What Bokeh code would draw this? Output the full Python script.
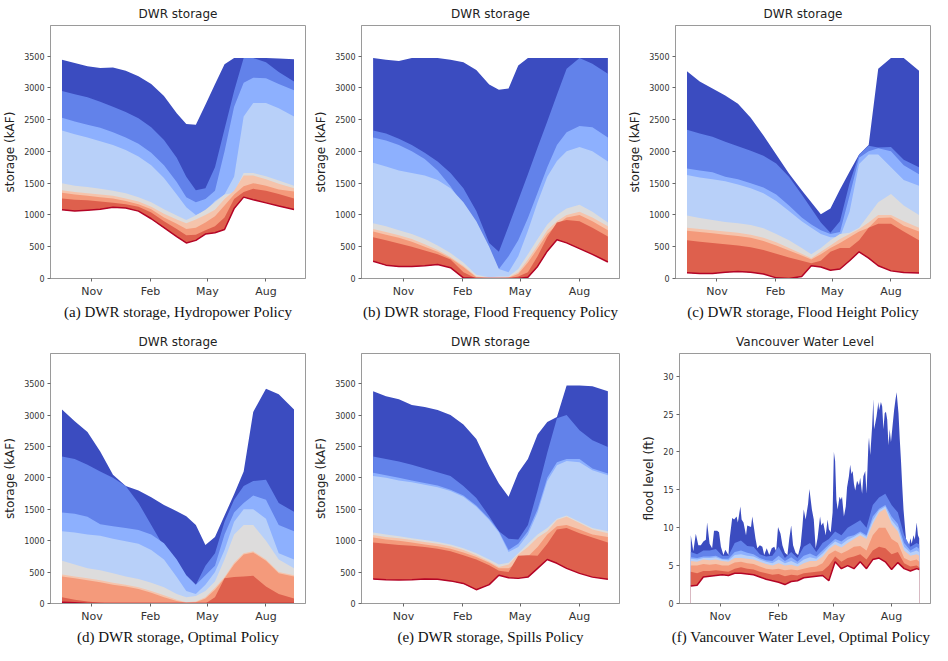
from bokeh.plotting import figure
from bokeh.models import Range1d, FixedTicker, Title
from bokeh.layouts import column, row
from bokeh.embed import file_html
from bokeh.resources import INLINE

# ---------------- shared axis data ----------------
tick_days = [47, 139, 228, 320]
tick_labels = ["Nov", "Feb", "May", "Aug"]
storage_ticks = [0, 500, 1000, 1500, 2000, 2500, 3000, 3500]
flood_ticks = [0, 5, 10, 15, 20, 25, 30]

# day of water year (0 = mid September)
days = [0, 20, 40, 60, 80, 100, 120, 140, 160, 180, 195, 210, 225, 240, 255, 270, 285, 300, 320, 340, 364]

# band colours (coolwarm), from the widest band to the lowest one, then the minimum line
band_colors = ["#3b4cc0", "#6282ea", "#8db0fe", "#b8d0f9", "#dddcdc", "#f5c4ac", "#f49a7b", "#de604d"]
min_color = "#b40426"

# ---------------- (a) Hydropower policy ----------------
a_top = [3440, 3390, 3340, 3310, 3320, 3270, 3180, 3060, 2870, 2600, 2430, 2420, 2735, 3055, 3370, 3470, 3470, 3470, 3470, 3460, 3450]
a_b2 = [2950, 2900, 2850, 2780, 2700, 2620, 2520, 2380, 2180, 1900, 1600, 1390, 1420, 1750, 2350, 2950, 3470, 3470, 3400, 3250, 3100]
a_b3 = [2530, 2470, 2420, 2370, 2300, 2220, 2120, 1980, 1780, 1520, 1280, 1200, 1250, 1380, 2000, 2700, 3080, 3160, 3150, 3060, 2960]
a_b4 = [2330, 2270, 2220, 2160, 2100, 2020, 1920, 1780, 1580, 1320, 1120, 1000, 1060, 1220, 1320, 1600, 2550, 2760, 2760, 2680, 2550]
a_b5 = [1500, 1460, 1440, 1410, 1380, 1340, 1280, 1200, 1090, 990, 920, 990, 1080, 1200, 1320, 1350, 1660, 1660, 1610, 1540, 1460]
a_b6 = [1390, 1360, 1340, 1320, 1300, 1260, 1210, 1130, 1020, 930, 870, 930, 1000, 1080, 1250, 1380, 1620, 1620, 1560, 1490, 1420]
a_b7 = [1350, 1320, 1300, 1280, 1260, 1220, 1170, 1090, 960, 860, 780, 800, 880, 980, 1150, 1320, 1450, 1500, 1460, 1400, 1370]
a_b8 = [1260, 1240, 1230, 1210, 1190, 1170, 1130, 1040, 900, 780, 680, 690, 760, 820, 960, 1250, 1360, 1410, 1380, 1330, 1260]
a_min = [1080, 1060, 1075, 1090, 1120, 1110, 1060, 940, 800, 660, 560, 600, 700, 720, 770, 1100, 1280, 1240, 1190, 1140, 1085]

# ---------------- (b) Flood frequency policy ----------------
b_top = [3470, 3440, 3420, 3470, 3470, 3470, 3440, 3400, 3280, 3050, 2970, 2990, 3350, 3470, 3470, 3470, 3470, 3470, 3470, 3470, 3470]
b_b2 = [2330, 2280, 2200, 2100, 1980, 1840, 1660, 1420, 1060, 560, 420, 820, 1230, 1640, 2060, 2470, 2890, 3300, 3470, 3380, 3220]
b_b3 = [2220, 2170, 2100, 2000, 1880, 1700, 1450, 1150, 780, 350, 150, 350, 600, 950, 1350, 1750, 2100, 2300, 2400, 2380, 2220]
b_b4 = [1820, 1760, 1700, 1660, 1620, 1550, 1420, 1200, 900, 500, 150, 100, 350, 750, 1200, 1600, 1850, 2000, 2070, 2000, 1840]
b_b5 = [870, 820, 760, 700, 620, 520, 400, 250, 60, 20, 30, 30, 150, 380, 620, 850, 1000, 1100, 1160, 1050, 880]
b_b6 = [780, 730, 680, 620, 540, 450, 340, 200, 30, 10, 10, 20, 100, 300, 520, 760, 900, 1000, 1050, 960, 820]
b_b7 = [740, 690, 640, 580, 500, 420, 320, 180, 20, 0, 0, 10, 70, 250, 470, 700, 850, 960, 1000, 900, 760]
b_b8 = [650, 600, 550, 500, 440, 380, 300, 100, 0, 0, 0, 0, 30, 100, 350, 650, 880, 920, 900, 800, 660]
b_min = [270, 210, 190, 190, 200, 220, 170, 10, 0, 0, 0, 0, 0, 20, 190, 430, 610, 560, 470, 380, 260]

# ---------------- (c) Flood height policy ----------------
c_top = [3260, 3100, 2990, 2880, 2750, 2530, 2250, 1950, 1650, 1390, 1200, 1010, 1100, 1400, 1680, 1950, 2100, 3300, 3470, 3470, 3270]
c_b2 = [2340, 2280, 2230, 2150, 2080, 2010, 1930, 1810, 1600, 1320, 1100, 880, 720, 900, 1500, 1950, 2090, 2060, 2070, 1870, 1750]
c_b3 = [1730, 1700, 1670, 1600, 1560, 1500, 1430, 1320, 1150, 960, 850, 760, 700, 730, 1300, 1900, 2000, 2050, 2000, 1780, 1640]
c_b4 = [1630, 1590, 1560, 1530, 1480, 1420, 1340, 1220, 1060, 900, 800, 700, 650, 650, 1050, 1800, 1950, 1950, 1750, 1550, 1460]
c_b5 = [990, 950, 920, 890, 870, 840, 790, 700, 600, 480, 380, 480, 600, 700, 720, 800, 1000, 1200, 1330, 1150, 1000]
c_b6 = [800, 780, 760, 740, 720, 690, 640, 570, 480, 390, 320, 420, 520, 620, 700, 780, 880, 1000, 1000, 900, 800]
c_b7 = [750, 730, 710, 690, 670, 640, 590, 520, 440, 360, 300, 380, 480, 560, 650, 740, 800, 950, 960, 830, 740]
c_b8 = [600, 580, 560, 540, 520, 490, 450, 390, 330, 280, 240, 280, 420, 480, 480, 600, 800, 860, 860, 740, 600]
c_min = [90, 80, 80, 100, 110, 100, 70, 10, 0, 30, 200, 180, 130, 150, 280, 420, 320, 200, 120, 95, 85]

# ---------------- (d) Optimal policy ----------------
d_top = [3090, 2900, 2730, 2420, 2050, 1870, 1800, 1690, 1570, 1470, 1390, 1250, 930, 1060, 1400, 1740, 2100, 3050, 3420, 3330, 3090]
d_b2 = [2340, 2300, 2210, 2100, 2000, 1870, 1600, 1250, 900, 560, 300, 300, 600, 800, 1300, 1650, 1870, 1950, 1970, 1600, 1460]
d_b3 = [1450, 1430, 1380, 1260, 1230, 1200, 1170, 1100, 960, 700, 450, 300, 450, 600, 1100, 1450, 1600, 1720, 1650, 1250, 1150]
d_b4 = [1150, 1130, 1100, 1080, 1030, 990, 950, 850, 700, 420, 200, 150, 300, 500, 850, 1300, 1500, 1500, 1350, 800, 700]
d_b5 = [680, 620, 560, 530, 480, 430, 390, 330, 260, 150, 100, 120, 200, 350, 700, 1100, 1250, 1250, 1000, 700, 560]
d_b6 = [460, 430, 400, 370, 330, 300, 260, 200, 130, 60, 20, 30, 100, 250, 420, 650, 800, 830, 700, 500, 450]
d_b7 = [430, 400, 370, 340, 300, 270, 230, 170, 100, 40, 10, 20, 80, 220, 400, 620, 780, 810, 680, 480, 430]
d_b8 = [100, 60, 30, 10, 0, 0, 0, 0, 0, 0, 0, 0, 0, 100, 400, 420, 430, 440, 270, 150, 80]
d_min = [20, 10, 0, 0, 0, 0, 0, 0, 0, 0, 0, 0, 0, 0, 0, 0, 0, 0, 0, 0, 0]

# ---------------- (e) Spills policy ----------------
e_top = [3380, 3300, 3250, 3160, 3130, 3080, 3000, 2850, 2620, 2190, 1910, 1700, 2080, 2300, 2690, 2890, 2970, 3470, 3470, 3460, 3380]
e_b2 = [2340, 2300, 2260, 2210, 2150, 2090, 2030, 1870, 1680, 1390, 1150, 1030, 1020, 1250, 1800, 2400, 2950, 3000, 2760, 2600, 2490]
e_b3 = [2080, 2040, 2000, 1960, 1920, 1880, 1810, 1720, 1560, 1350, 1150, 850, 950, 1150, 1500, 2000, 2250, 2300, 2300, 2150, 2070]
e_b4 = [2030, 2000, 1960, 1930, 1890, 1850, 1790, 1700, 1540, 1330, 1130, 820, 900, 1100, 1450, 1950, 2200, 2270, 2250, 2120, 2040]
e_b5 = [1130, 1100, 1070, 1040, 1010, 980, 940, 880, 800, 700, 620, 650, 800, 950, 1100, 1200, 1350, 1400, 1300, 1200, 1150]
e_b6 = [1090, 1060, 1040, 1010, 980, 950, 910, 850, 770, 670, 580, 620, 780, 900, 1050, 1150, 1330, 1380, 1280, 1180, 1120]
e_b7 = [1050, 1020, 1000, 970, 940, 910, 870, 810, 740, 650, 560, 560, 650, 750, 900, 1100, 1230, 1250, 1180, 1100, 1060]
e_b8 = [970, 950, 930, 920, 900, 870, 830, 770, 700, 610, 520, 500, 760, 770, 760, 950, 1180, 1200, 1120, 1050, 970]
e_min = [390, 380, 375, 380, 390, 385, 360, 320, 220, 300, 450, 410, 400, 420, 560, 700, 640, 560, 480, 420, 385]

# ---------------- (f) Vancouver water level ----------------
f_top_days = [0, 4, 8, 12, 16, 20, 24, 26, 30, 34, 37, 42, 45, 48, 52, 55, 60, 62, 66, 69, 73, 75, 79, 81, 84, 88, 90,
              96, 98, 101, 103, 106, 110, 114, 117, 121, 125, 129, 133, 136, 139, 143, 146, 150, 154, 157, 160, 163,
              167, 171, 175, 178, 180, 183, 187, 189, 193, 196, 199, 202, 206, 208, 211, 215, 218, 220, 223, 226, 228,
              230, 232, 234, 237, 239, 241, 244, 247, 249, 252, 254, 256, 258, 260, 262, 265, 268, 270, 273, 275, 278,
              280, 283, 284, 286, 289, 291, 292, 294, 296, 299, 300, 303, 305, 307, 309, 311, 313, 315, 317, 319, 321,
              324, 326, 328, 331, 333, 335, 337, 339, 342, 344, 347, 350, 352, 355, 357, 360, 362, 364]
f_top = [9.0, 6.9, 9.2, 7.7, 7.7, 8.2, 8.4, 10.7, 7.9, 7.3, 9.6, 9.6, 9.4, 7.5, 6.4, 7.1, 6.4, 8.6, 11.3, 11.1, 11.5, 10.7,
         12.8, 11.1, 10.7, 9.0, 10.3, 10.1, 11.5, 9.8, 8.6, 7.3, 7.7, 7.5, 6.4, 7.3, 6.4, 7.3, 7.5, 6.9, 10.1, 9.2, 7.7,
         6.7, 6.4, 8.6, 10.3, 7.7, 6.7, 6.4, 7.7, 10.3, 12.4, 11.1, 13.2, 15.1, 12.4, 11.1, 7.3, 8.6, 11.5, 10.3, 10.7,
         9.0, 11.1, 9.8, 9.4, 12.0, 20.0, 18.8, 13.7, 12.4, 14.1, 13.7, 14.1, 11.5, 12.8, 15.3, 16.8, 18.3, 17.1, 17.5,
         15.8, 14.9, 16.2, 15.6, 16.6, 14.5, 16.8, 17.5, 14.5, 20.9, 21.9, 19.6, 23.4, 27.0, 23.0, 23.8, 24.7, 26.6,
         25.5, 26.6, 26.0, 23.0, 25.1, 25.3, 24.3, 20.9, 23.0, 21.3, 23.0, 25.5, 26.8, 27.9, 25.1, 21.7, 18.8, 15.4,
         12.4, 9.4, 7.7, 7.3, 8.6, 7.9, 9.0, 8.4, 10.7, 9.0, 8.6]
f_days = [0, 10, 20, 30, 40, 50, 60, 70, 80, 90, 100, 110, 120, 130, 140, 150, 160, 170, 180, 190, 200, 210, 220, 230,
          240, 250, 260, 270, 280, 290, 300, 310, 320, 330, 340, 350, 360, 364]
f_b2 = [6.8, 6.5, 7.0, 7.0, 7.2, 6.3, 6.3, 8.0, 8.3, 7.6, 7.5, 6.5, 6.2, 6.3, 7.5, 6.0, 6.8, 6.0, 7.5, 8.0, 6.8, 8.0,
        8.5, 9.5, 9.0, 10.0, 10.5, 11.0, 10.0, 13.0, 14.0, 14.5, 13.0, 12.0, 9.0, 7.5, 8.0, 7.8]
f_b3 = [6.1, 6.0, 6.2, 6.2, 6.3, 5.9, 5.9, 6.8, 7.0, 6.7, 6.5, 6.0, 5.7, 5.6, 6.3, 5.6, 6.1, 5.5, 6.3, 6.6, 6.2, 7.0,
        7.8, 8.5, 8.2, 8.8, 9.0, 9.5, 9.0, 11.5, 12.5, 13.0, 11.5, 10.5, 8.0, 7.0, 7.5, 7.2]
f_b4 = [5.9, 5.8, 6.0, 6.0, 6.1, 5.8, 5.7, 6.4, 6.5, 6.3, 6.2, 5.8, 5.5, 5.3, 5.8, 5.3, 5.6, 5.2, 5.8, 6.1, 5.9, 6.6,
        7.5, 8.2, 7.8, 8.4, 8.8, 9.3, 8.8, 11.0, 12.3, 12.8, 11.0, 10.0, 7.5, 6.7, 7.0, 6.8]
f_b5 = [5.6, 5.5, 5.8, 5.7, 5.8, 5.6, 5.5, 6.0, 6.0, 5.9, 5.8, 5.5, 5.2, 5.0, 5.3, 5.0, 5.1, 4.9, 5.3, 5.6, 5.6, 6.2,
        7.2, 7.8, 7.4, 8.0, 8.5, 9.0, 8.5, 10.5, 12.0, 12.5, 10.5, 9.5, 7.0, 6.3, 6.5, 6.3]
f_b7 = [5.0, 5.0, 5.2, 5.1, 5.2, 5.0, 5.0, 5.4, 5.5, 5.3, 5.2, 4.9, 4.6, 4.5, 4.6, 4.4, 4.5, 4.4, 4.6, 4.8, 4.9, 5.3,
        6.5, 7.0, 6.6, 7.0, 7.5, 7.6, 7.0, 9.0, 10.0, 10.0, 8.5, 8.0, 6.0, 5.6, 5.8, 5.5]
f_b8 = [4.2, 4.0, 4.3, 4.3, 4.4, 4.3, 4.2, 4.6, 4.8, 4.6, 4.5, 4.2, 4.0, 3.8, 3.9, 3.6, 3.8, 3.7, 4.0, 4.1, 4.2, 4.3,
        5.0, 6.2, 5.5, 6.0, 6.2, 6.5, 5.8, 7.0, 7.5, 7.3, 6.5, 6.8, 5.3, 4.9, 5.0, 4.8]
f_min = [2.3, 2.4, 3.5, 3.6, 3.7, 3.8, 3.7, 4.0, 4.0, 3.9, 3.8, 3.5, 3.2, 3.0, 2.8, 2.5, 2.9, 3.0, 3.4, 3.5, 3.6, 3.7,
         3.0, 5.5, 4.6, 5.0, 4.6, 5.5, 4.6, 5.8, 6.0, 5.5, 4.5, 5.4, 4.6, 4.3, 4.6, 4.5]

SANS = "DejaVu Sans"
SERIF = "Liberation Serif"


def make_fig(title, caption, ylabel, yend, yticks, width, height, bl, br, tstand, bb, cap_align="center"):
    p = figure(width=width, height=height, x_range=Range1d(-18, 382), y_range=Range1d(0, yend),
               output_backend="svg", toolbar_location=None,
               min_border_left=bl, min_border_right=br, min_border_top=0, min_border_bottom=bb)
    p.title.text = title
    p.title.align = "center"
    p.title.text_font = SANS
    p.title.text_font_size = "12px"
    p.title.text_font_style = "normal"
    p.title.text_color = "#222222"
    p.title.standoff = tstand
    p.add_layout(Title(text=caption, align=cap_align, text_font=SERIF, text_font_size="15px",
                       text_font_style="normal", text_color="#111111", standoff=2), "below")
    p.xaxis.ticker = FixedTicker(ticks=tick_days)
    p.xaxis.major_label_overrides = {d: l for d, l in zip(tick_days, tick_labels)}
    p.yaxis.ticker = FixedTicker(ticks=yticks)
    p.xaxis.major_label_text_font_size = "11px"
    p.yaxis.major_label_text_font_size = "8px"
    p.axis.major_label_text_font = SANS
    p.axis.major_label_text_color = "#333333"
    p.yaxis.axis_label = ylabel
    p.yaxis.axis_label_text_font = SANS
    p.yaxis.axis_label_text_font_size = "12px"
    p.yaxis.axis_label_text_font_style = "normal"
    p.yaxis.axis_label_text_color = "#222222"
    p.yaxis.axis_label_standoff = 4
    p.axis.major_label_standoff = 3
    p.axis.axis_line_color = "#9a9a9a"
    p.axis.major_tick_line_color = "#666666"
    p.axis.major_tick_out = 3
    p.axis.major_tick_in = 0
    p.axis.minor_tick_line_color = None
    p.grid.visible = False
    p.outline_line_color = "#9a9a9a"
    p.outline_line_width = 1
    return p


def storage_panel(caption, bands, low, width, height, bl, br, tstand, bb):
    p = make_fig("DWR storage", caption, "storage (kAF)", 3980, storage_ticks, width, height, bl, br, tstand, bb)
    for col, upper in zip(band_colors, bands):
        p.varea(x=days, y1=low, y2=upper, fill_color=col)
    p.line(x=days, y=low, line_color=min_color, line_width=1.5)
    return p


# row 1: 8..335, row 2: 335..653
H1, H2 = 327, 318
TS1, BOT1 = 9, 49
TS2, BOT2 = 10, 0

pa = storage_panel("(a) DWR storage, Hydropower Policy",
                   [a_top, a_b2, a_b3, a_b4, a_b5, a_b6, a_b7, a_b8], a_min, 310, H1, 47, 5, TS1, BOT1)
pb = storage_panel("(b) DWR storage, Flood Frequency Policy",
                   [b_top, b_b2, b_b3, b_b4, b_b5, b_b6, b_b7, b_b8], b_min, 314, H1, 51, 5, TS1, BOT1)
pc = storage_panel("(c) DWR storage, Flood Height Policy",
                   [c_top, c_b2, c_b3, c_b4, c_b5, c_b6, c_b7, c_b8], c_min, 308, H1, 51, 2, TS1, BOT1)
pd = storage_panel("(d) DWR storage, Optimal Policy",
                   [d_top, d_b2, d_b3, d_b4, d_b5, d_b6, d_b7, d_b8], d_min, 310, H2, 47, 5, TS2, BOT2)
pe = storage_panel("(e) DWR storage, Spills Policy",
                   [e_top, e_b2, e_b3, e_b4, e_b5, e_b6, e_b7, e_b8], e_min, 314, H2, 51, 5, TS2, BOT2)

pf = make_fig("Vancouver Water Level", "(f) Vancouver Water Level, Optimal Policy", "flood level (ft)",
              33, flood_ticks, 308, H2, 55, 2, TS2, BOT2, cap_align="right")
pf.varea(x=f_top_days, y1=0, y2=f_top, fill_color=band_colors[0])
f_layers = [(f_b2, band_colors[1]), (f_b3, band_colors[2]), (f_b4, band_colors[3]),
            (f_b5, band_colors[5]), (f_b7, band_colors[6]), (f_b8, band_colors[7])]
for vals, col in f_layers:
    pf.varea(x=f_days, y1=0, y2=vals, fill_color=col)
pf.varea(x=f_days, y1=0, y2=f_min, fill_color="white")
pf.line(x=f_days, y=f_min, line_color=min_color, line_width=1.5)

layout = column(row(pa, pb, pc), row(pd, pe, pf))

with open("out.html", "w") as fh:
    fh.write(file_html(layout, INLINE))
